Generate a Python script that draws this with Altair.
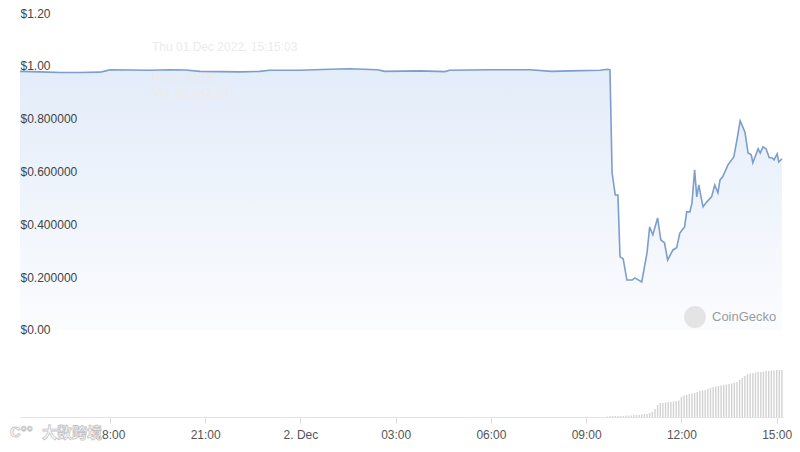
import altair as alt
import pandas as pd

# ---------------- data ----------------
price_times = [
    "2022-12-01T15:10", "2022-12-01T15:48", "2022-12-01T16:26", "2022-12-01T17:03",
    "2022-12-01T17:41", "2022-12-01T17:52", "2022-12-01T18:00", "2022-12-01T19:16",
    "2022-12-01T19:53", "2022-12-01T20:22", "2022-12-01T20:50", "2022-12-01T22:06",
    "2022-12-01T22:43", "2022-12-01T23:02", "2022-12-01T23:59", "2022-12-02T00:56",
    "2022-12-02T01:33", "2022-12-02T02:26", "2022-12-02T02:39", "2022-12-02T03:46",
    "2022-12-02T04:33", "2022-12-02T04:42", "2022-12-02T05:58", "2022-12-02T07:14",
    "2022-12-02T07:55", "2022-12-02T08:30", "2022-12-02T09:26", "2022-12-02T09:41",
    "2022-12-02T09:45", "2022-12-02T09:49", "2022-12-02T09:55", "2022-12-02T10:00",
    "2022-12-02T10:04", "2022-12-02T10:10", "2022-12-02T10:17", "2022-12-02T10:27",
    "2022-12-02T10:32", "2022-12-02T10:45", "2022-12-02T10:55", "2022-12-02T11:00",
    "2022-12-02T11:06", "2022-12-02T11:15", "2022-12-02T11:21", "2022-12-02T11:28",
    "2022-12-02T11:34", "2022-12-02T11:44", "2022-12-02T11:51", "2022-12-02T11:57",
    "2022-12-02T12:06", "2022-12-02T12:10", "2022-12-02T12:16", "2022-12-02T12:20",
    "2022-12-02T12:25", "2022-12-02T12:29", "2022-12-02T12:33", "2022-12-02T12:37",
    "2022-12-02T12:41", "2022-12-02T12:48", "2022-12-02T12:57", "2022-12-02T13:03",
    "2022-12-02T13:09", "2022-12-02T13:13", "2022-12-02T13:18", "2022-12-02T13:28",
    "2022-12-02T13:39", "2022-12-02T13:45", "2022-12-02T13:51", "2022-12-02T14:00",
    "2022-12-02T14:06", "2022-12-02T14:12", "2022-12-02T14:15", "2022-12-02T14:25",
    "2022-12-02T14:29", "2022-12-02T14:34", "2022-12-02T14:40", "2022-12-02T14:46",
    "2022-12-02T14:51", "2022-12-02T14:55", "2022-12-02T15:01", "2022-12-02T15:04",
    "2022-12-02T15:10",
]
price_values = [
    0.979, 0.977, 0.975, 0.975,
    0.976, 0.981, 0.985, 0.983,
    0.985, 0.984, 0.979, 0.977,
    0.979, 0.983, 0.983, 0.987,
    0.989, 0.985, 0.979, 0.981,
    0.978, 0.983, 0.985, 0.985,
    0.979, 0.981, 0.983, 0.987,
    0.985, 0.595, 0.511, 0.511,
    0.277, 0.269, 0.189, 0.189,
    0.197, 0.182, 0.292, 0.390,
    0.360, 0.424, 0.341, 0.330,
    0.265, 0.303, 0.311, 0.367,
    0.390, 0.447, 0.447, 0.481,
    0.606, 0.504, 0.549, 0.504,
    0.466, 0.485, 0.504, 0.549,
    0.519, 0.568, 0.580, 0.625,
    0.655, 0.720, 0.792, 0.750,
    0.670, 0.663, 0.633, 0.686,
    0.670, 0.693, 0.686, 0.652,
    0.652, 0.644, 0.667, 0.636,
    0.648,
]

# volume bars, one per 5 minutes from 09:40 (thousand USD)
volume_start = "2022-12-02T09:40"
volume_values = [
    5, 10, 10, 10, 10, 10, 10, 15, 15, 15, 20, 20,
    20, 25, 30, 30, 40, 50, 80, 120, 140, 140, 145, 150,
    150, 155, 160, 165, 200, 215, 220, 230, 235, 240, 250, 260,
    265, 270, 280, 290, 300, 305, 310, 315, 320, 325, 330, 335,
    340, 350, 370, 390, 410, 430, 435, 440, 445, 450, 450, 455,
    460, 460, 465, 465, 470, 470, 470,
]

y_ticks = [0.0, 0.2, 0.4, 0.6, 0.8, 1.0, 1.2]
y_tick_labels = ["$0.00", "$0.200000", "$0.400000", "$0.600000", "$0.800000", "$1.00", "$1.20"]

x_ticks = ["2022-12-01T18:00", "2022-12-01T21:00", "2022-12-02T00:00", "2022-12-02T03:00",
           "2022-12-02T06:00", "2022-12-02T09:00", "2022-12-02T12:00", "2022-12-02T15:00"]
x_tick_labels = ["18:00", "21:00", "2. Dec", "03:00", "06:00", "09:00", "12:00", "15:00"]

x_domain = ["2022-12-01T15:10", "2022-12-02T15:12"]

tooltip_lines = ["Thu 01 Dec 2022, 15:15:03", "Price: $1.00", "Vol: $3,842.53"]

# ---------------- tables ----------------
price_df = pd.DataFrame({"time": price_times, "price": price_values})
vol_times = pd.date_range(volume_start, periods=len(volume_values), freq="5min")
vol_df = pd.DataFrame({"time": vol_times.strftime("%Y-%m-%dT%H:%M"), "vol": volume_values})


def dt(s):
    t = pd.Timestamp(s)
    return alt.DateTime(year=t.year, month=t.month, date=t.day, hours=t.hour, minutes=t.minute)


x_label_expr = " : ".join(
    f"timeFormat(datum.value, '%d %H:%M') == '{pd.Timestamp(t).strftime('%d %H:%M')}' ? '{lab}'"
    for t, lab in zip(x_ticks, x_tick_labels)
) + " : ''"
y_label_expr = " : ".join(
    f"abs(datum.value - {v}) < 0.01 ? '{lab}'" for v, lab in zip(y_ticks, y_tick_labels)
) + " : ''"

FONT = "Liberation Sans"
W, H = 763, 404
y_min = -0.3295
vol_max = max(volume_values) * H / 47.0

x_enc = alt.X(
    "time:T",
    scale=alt.Scale(domain=[dt(x_domain[0]), dt(x_domain[1])], padding=0),
    axis=alt.Axis(
        values=[dt(t) for t in x_ticks],
        labelExpr=x_label_expr,
        title=None,
        grid=False,
        domainColor="#e3e3e3",
        tickColor="#dcdcdc",
        tickSize=6,
        labelColor="#555555",
        labelFont=FONT,
        labelFontSize=12,
        labelPadding=6,
    ),
)

price_y = alt.Y(
    "price:Q",
    scale=alt.Scale(domain=[y_min, 1.2], nice=False, zero=False),
    axis=alt.Axis(
        values=y_ticks,
        labelExpr=y_label_expr,
        title=None,
        grid=False,
        domain=False,
        ticks=False,
        tickSize=0,
        labelPadding=0,
        labelAlign="left",
        labelBaseline="middle",
        labelColor="#444444",
        labelFont=FONT,
        labelFontSize=12,
        labelOverlap=False,
        zindex=1,
    ),
)

area = alt.Chart(price_df).mark_area(
    color=alt.Gradient(
        gradient="linear",
        stops=[alt.GradientStop(color="#e3ecf9", offset=0),
               alt.GradientStop(color="#fbfcfe", offset=1)],
        x1=1, x2=1, y1=0, y2=1,
    ),
).encode(x=x_enc, y=price_y, y2=alt.datum(0))

line = alt.Chart(price_df).mark_line(color="#7d9dcc", strokeWidth=1.6).encode(
    x=alt.X("time:T"), y=alt.Y("price:Q")
)

tooltip_layers = [
    alt.Chart(pd.DataFrame({"t": [txt]})).mark_text(
        align="left", baseline="middle", font=FONT, fontSize=12, color="#ebebeb"
    ).encode(text="t:N", x=alt.value(132), y=alt.value(yy))
    for txt, yy in zip(tooltip_lines, [34, 65, 80])
]

logo_circle = alt.Chart(pd.DataFrame({"a": [0]})).mark_circle(
    size=480, color="#e4e4e4", opacity=1
).encode(x=alt.value(675), y=alt.value(304))
logo_text = alt.Chart(pd.DataFrame({"t": ["CoinGecko"]})).mark_text(
    align="left", baseline="middle", font=FONT, fontSize=13, color="#9b9b9b"
).encode(text="t:N", x=alt.value(692), y=alt.value(304))

price_layer = alt.layer(area, line, *tooltip_layers, logo_circle, logo_text)

bars = alt.Chart(vol_df).mark_bar(color="#d2d2d2", width=1.4).encode(
    x=alt.X("time:T"),
    y=alt.Y("vol:Q", scale=alt.Scale(domain=[0, vol_max], nice=False), axis=None),
)

watermark = alt.Chart(pd.DataFrame({"t": ["大数跨境"]})).mark_text(
    align="left", baseline="middle", font="Noto Sans CJK SC", fontSize=15, fontWeight="bold",
    color="#ffffff", stroke="#c4c4c4", strokeWidth=0.8,
).encode(text="t:N", x=alt.value(22), y=alt.value(420))
wm_logo = alt.Chart(pd.DataFrame({"t": ["C°°"]})).mark_text(
    align="left", baseline="middle", font=FONT, fontSize=15, fontWeight="bold",
    color="#ffffff", stroke="#c4c4c4", strokeWidth=0.8,
).encode(text="t:N", x=alt.value(-10), y=alt.value(419))

chart = alt.layer(
    price_layer, bars, watermark, wm_logo
).resolve_scale(y="independent").properties(
    width=W, height=H,
    background="#ffffff",
    autosize=alt.AutoSizeParams(type="none"),
    padding={"left": 12, "top": 5, "right": 9, "bottom": 27},
).configure_view(stroke=None, strokeWidth=0)

chart.save("out.html", embed_options={"renderer": "svg", "actions": False})
